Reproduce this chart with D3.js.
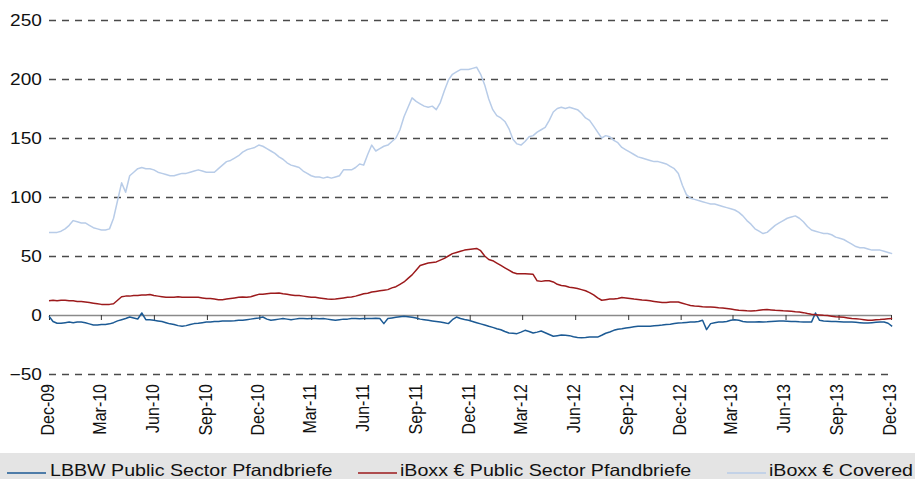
<!DOCTYPE html>
<html><head><meta charset="utf-8">
<script src="https://cdn.jsdelivr.net/npm/d3@7"></script>
<style>
html,body{margin:0;padding:0;background:#fff;}
svg{display:block;font-family:"Liberation Sans",Arial,Helvetica,sans-serif;}
</style>
</head><body>
<svg id="chart" width="915" height="479"></svg>
<script>
// ---------------- DATA ----------------
const startDate = "2009-12-01";
const endDate = "2013-12-01";
const weekCount = 210; // weekly observations from startDate
const tickLabels = ["Dec-09","Mar-10","Jun-10","Sep-10","Dec-10","Mar-11","Jun-11","Sep-11","Dec-11","Mar-12","Jun-12","Sep-12","Dec-12","Mar-13","Jun-13","Sep-13","Dec-13"];
const yTicks = [-50, 0, 50, 100, 150, 200, 250];
const seriesNames = ["LBBW Public Sector Pfandbriefe", "iBoxx \u20AC Public Sector Pfandbriefe", "iBoxx \u20AC Covered"];

const lbbw = [-1,-5.5,-7,-7,-6.5,-6,-6.5,-6,-6,-6.5,-7.5,-8.5,-8.5,-8,-8,-7.5,-6.5,-5,-4,-3,
-1.7,-2.5,-3.4,1.7,-4,-4,-4.5,-5,-5.5,-6.5,-7.5,-8,-9,-9.6,-9,-8,-7.3,-7,-6.5,-6,
-6,-5.5,-5.5,-5,-5,-5,-4.8,-4.5,-4.5,-4,-3.5,-3,-2.5,-1.7,-3.5,-4.5,-4,-3.5,-3,-3.5,
-4,-3.5,-3,-3,-3.2,-3,-3,-3.2,-3,-3.5,-4,-4.5,-4,-3.5,-3.5,-3,-3,-3.2,-3,-3,
-3,-2.8,-3,-7.3,-3,-2.5,-2,-1.5,-1,-1.5,-2,-2.5,-3.5,-4,-4.5,-5,-5.5,-6,-6.5,-7.3,
-4,-1.7,-3,-3.8,-4.5,-5.5,-6.5,-7.5,-8.5,-9.6,-10.5,-11.6,-12.5,-14,-15.3,-15.5,-15.8,-14.5,-13,-14,
-15.3,-14.5,-13.6,-15,-16.5,-18,-17.5,-17,-17.2,-17.5,-18.5,-19,-19.2,-19,-18.7,-18.7,-18.7,-17.2,-15.5,-14.4,
-13,-12,-11.6,-11,-10.5,-10,-9.6,-9.6,-9.5,-9.6,-9.2,-8.8,-8.5,-8,-7.8,-7.3,-6.8,-6.6,-6.3,-6,
-6,-5.5,-4.5,-12.4,-7.3,-6.5,-6,-6,-5.5,-4.5,-4,-4.5,-5.5,-6,-6,-6,-5.8,-6,-5.8,-5.5,
-5.2,-5,-5,-5.2,-5.5,-5.5,-5.8,-6,-6,-6,1.7,-4.5,-5,-5.2,-5.5,-5.5,-5.7,-6,-6,-6,
-6.2,-6.5,-6.8,-6.8,-6.5,-6.2,-6,-6,-7,-9.6];

const iboxxPublic = [12,12.5,12,12.5,12.5,12,12,11.5,11.5,11,10.5,10,9.5,9,8.8,9,9.5,12.5,15.5,16,
16,16.5,16.5,17,17,17.3,16.5,16,15.5,15,15,15,15.5,15,15,15,15,15,14.5,14,
14,13.5,13,13,13.5,14,14.5,15,15.3,15,15.5,16.5,17.5,17.5,18,18.5,18.5,18.7,18,17.5,
17,16.5,16.5,16,15.5,15,15,14.5,14,13.5,13.3,13.5,14,14.5,15,15.3,16,17,18,18.5,
19.5,20,20.5,21,21.5,23,24,26,28,31,34,38,42,43,44,44.5,45,46.5,48,50,
52,53,54,55,55.5,56,56.4,54.5,50,47,46,44,42,40,38,36,35,35,35,34.8,
34.5,29,28.5,29,29,28,26,25,24.5,23.5,23,22.5,21.5,20.5,19,17,14.5,12.5,13,13.5,
13.5,14,14.8,14.5,14,13.5,13.2,12.8,12.5,12,11.5,11,10.5,10.5,11,11,11,10,9,8,
7.7,7.5,7,6.8,6.8,6.5,6.2,6,5.5,5,4.5,4,3.8,3.5,3.4,3.5,4,4.5,4.6,4.3,
4,3.8,3.5,3.4,3.2,2.8,2.5,2,1.2,0.6,0.3,0,-0.3,-0.5,-1,-1.5,-1.7,-2,-2.5,-3,
-3.1,-3.5,-4,-4.5,-4.5,-4,-3.9,-3.5,-3.2,-3];

const iboxxCovered = [70,70,70,71,73,76,80,79,78,78,76,74,73,72,72,73,82,97,112,104,
118,121,124,125,124,124,123,121,120,119,118,118,119,120,120,121,122,123,122,121,
121,121,124,127,130,131,133,135,138,140,141,142,144,143,141,139,137,134,132,129,
127,126,125,122,120,118,117,117,116,117,116,117,118,123,123,123,125,128,127,136,
144,139,141,143,144,147,150,157,168,176,184,181,179,177,176,177,174,180,190,199,
204,206,208,208,208,209,210,204,195,183,174,169,167,164,158,149,145,144,147,151,
152,155,157,159,165,172,175,176,175,176,175,174,171,167,165,160,155,150,152,151,
148,146,142,140,138,136,134,133,132,131,130,130,129,128,126,124,120,110,102,99,
98,97,96,95,94,94,93,92,91,90,89,87,84,80,77,73,71,69,70,73,
76,78,80,82,83,84,82,79,75,72,71,70,69,69,68,66,65,64,62,60,
58,57,57,56,55,55,55,54,53,52];

const seriesColors = ["#1c5a94", "#9c1a1c", "#b8cce8"];

// ---------------- CHART ----------------
const svg = d3.select("#chart");
const SX = 1.19; // horizontal text stretch seen in the reference
const parseDay = d3.timeParse("%Y-%m-%d");
const parseTick = d3.timeParse("%b-%y");
const start = parseDay(startDate);
const dates = d3.range(weekCount).map(i => d3.timeDay.offset(start, 7 * i));
const tickDates = tickLabels.map(parseTick);

const x = d3.scaleTime().domain([start, parseDay(endDate)]).range([49, 891]);
const y = d3.scaleLinear().domain([-50, 250]).range([374, 20]);

// gridlines
svg.append("g").selectAll("line")
  .data(yTicks.filter(v => v !== 0))
  .join("line")
  .attr("x1", 49).attr("x2", 891)
  .attr("y1", d => Math.round(y(d)) + 0.5).attr("y2", d => Math.round(y(d)) + 0.5)
  .attr("stroke", "#4a4a4a").attr("stroke-width", 1.3)
  .attr("stroke-dasharray", "7,6");

// y axis labels
const yAxis = svg.append("g").attr("transform", "translate(49,0)")
  .call(d3.axisLeft(y).tickValues(yTicks).tickSize(0).tickPadding(6).tickFormat(d3.format("d")));
yAxis.select(".domain").remove();
yAxis.selectAll("text")
  .attr("font-size", 16).attr("fill", "#111")
  .attr("font-family", "Liberation Sans, Arial, sans-serif")
  .attr("transform", `scale(${SX},1)`);

// x axis at zero
const xAxis = svg.append("g").attr("transform", `translate(0,${y(0)})`)
  .call(d3.axisBottom(x).tickValues(tickDates).tickFormat(d3.timeFormat("%b-%y")).tickSize(5).tickSizeOuter(0));
xAxis.select(".domain").attr("stroke", "#8a8a8a").attr("stroke-width", 1.6);
xAxis.selectAll(".tick line").attr("stroke", "#333").attr("stroke-width", 1);
xAxis.selectAll("text")
  .attr("font-size", 16).attr("fill", "#111")
  .attr("font-family", "Liberation Sans, Arial, sans-serif")
  .attr("x", 0).attr("y", 0).attr("dy", "0.36em")
  .attr("text-anchor", "end")
  .attr("transform", `translate(-2.5,${374 + 10 - y(0)}) scale(${SX},1) rotate(-90)`);

// series lines
const line = d3.line().x((d, i) => x(dates[i])).y(d => y(d));
const seriesData = [lbbw, iboxxPublic, iboxxCovered];
svg.append("g").selectAll("path")
  .data(seriesData)
  .join("path")
  .attr("d", d => line(d))
  .attr("fill", "none")
  .attr("stroke", (d, i) => seriesColors[i])
  .attr("stroke-width", 1.5)
  .attr("stroke-linejoin", "round");

// legend
const legend = svg.append("g");
legend.append("rect").attr("x", 0).attr("y", 453).attr("width", 915).attr("height", 26).attr("fill", "#e4e4e4");
const legendPos = [{lx: 7, tx: 50}, {lx: 358, tx: 400}, {lx: 727, tx: 769}];
const items = legend.selectAll("g.item").data(seriesNames).join("g").attr("class", "item");
items.append("line")
  .attr("x1", (d, i) => legendPos[i].lx).attr("x2", (d, i) => legendPos[i].lx + 39)
  .attr("y1", 473).attr("y2", 473)
  .attr("stroke", (d, i) => seriesColors[i]).attr("stroke-width", 1.6);
items.append("text")
  .attr("transform", (d, i) => `translate(${legendPos[i].tx},476) scale(${SX},1)`)
  .attr("font-size", 16.5).attr("fill", "#111")
  .text(d => d);
</script>
</body></html>
